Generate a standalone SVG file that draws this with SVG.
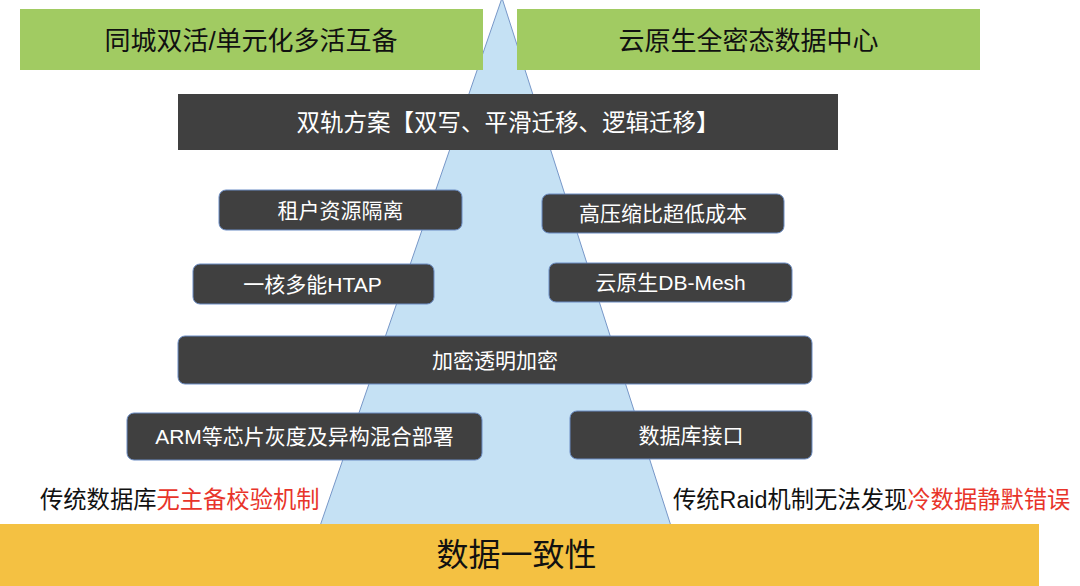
<svg xmlns="http://www.w3.org/2000/svg" width="1080" height="586" viewBox="0 0 1080 586">
<style>
.t{font-family:"Liberation Sans","Noto Sans CJK SC",sans-serif;}
.g{fill:#a1cb62;}
.gt{fill:#111111;font-size:26px;text-anchor:middle;}
.bar{fill:#404040;}
.bt{fill:#ffffff;font-size:23.5px;text-anchor:middle;}
.box{fill:#404040;stroke:#6a8cc4;stroke-width:1;}
.wt{fill:#ffffff;font-size:21px;text-anchor:middle;}
.note{fill:#111111;font-size:23.3px;}
.red{fill:#e8342a;}
</style>
<rect width="1080" height="586" fill="#ffffff"/>
<g id="pyramid">
<polygon points="502,-2 320,526 671,526" fill="#c5e1f4" stroke="#7797c8" stroke-width="1"/>
</g>
<g id="top-left">
<rect class="g" x="20" y="9" width="463" height="61"/>
<text class="t gt" x="251" y="49.5">同城双活/单元化多活互备</text>
</g>
<g id="top-right">
<rect class="g" x="517" y="9" width="463" height="61"/>
<text class="t gt" x="748.5" y="49.5">云原生全密态数据中心</text>
</g>
<g id="dual-track">
<rect class="bar" x="178" y="94" width="660" height="56"/>
<text class="t bt" x="508" y="130.5">双轨方案【双写、平滑迁移、逻辑迁移】</text>
</g>
<g id="tenant">
<rect class="box" x="219" y="190" width="243" height="40" rx="7"/>
<text class="t wt" x="340.5" y="217.5">租户资源隔离</text>
</g>
<g id="compress">
<rect class="box" x="542" y="194" width="242" height="39" rx="7"/>
<text class="t wt" x="663" y="221">高压缩比超低成本</text>
</g>
<g id="htap">
<rect class="box" x="193" y="264" width="241" height="40" rx="7"/>
<text class="t wt" x="312.5" y="291.5">一核多能HTAP</text>
</g>
<g id="dbmesh">
<rect class="box" x="549" y="263" width="243" height="39" rx="7"/>
<text class="t wt" x="670.5" y="290">云原生DB-Mesh</text>
</g>
<g id="encrypt">
<rect class="box" x="178" y="336" width="634" height="48" rx="7"/>
<text class="t wt" x="495" y="367.5">加密透明加密</text>
</g>
<g id="arm">
<rect class="box" x="127" y="413" width="355" height="47" rx="7"/>
<text class="t wt" x="304.5" y="444">ARM等芯片灰度及异构混合部署</text>
</g>
<g id="dbapi">
<rect class="box" x="570" y="411" width="242" height="48" rx="7"/>
<text class="t wt" x="691" y="442.5">数据库接口</text>
</g>
<g id="note-left">
<text class="t note" x="40" y="507.5">传统数据库<tspan class="red">无主备校验机制</tspan></text>
</g>
<g id="note-right">
<text class="t note" x="673" y="507.5">传统Raid机制无法发现<tspan class="red">冷数据静默错误</tspan></text>
</g>
<g id="consistency">
<rect x="0" y="524" width="1039" height="62" fill="#f4c142"/>
<text class="t" x="516.5" y="565.5" font-size="32" fill="#111111" text-anchor="middle">数据一致性</text>
</g>
<g id="connectors"></g>
</svg>
